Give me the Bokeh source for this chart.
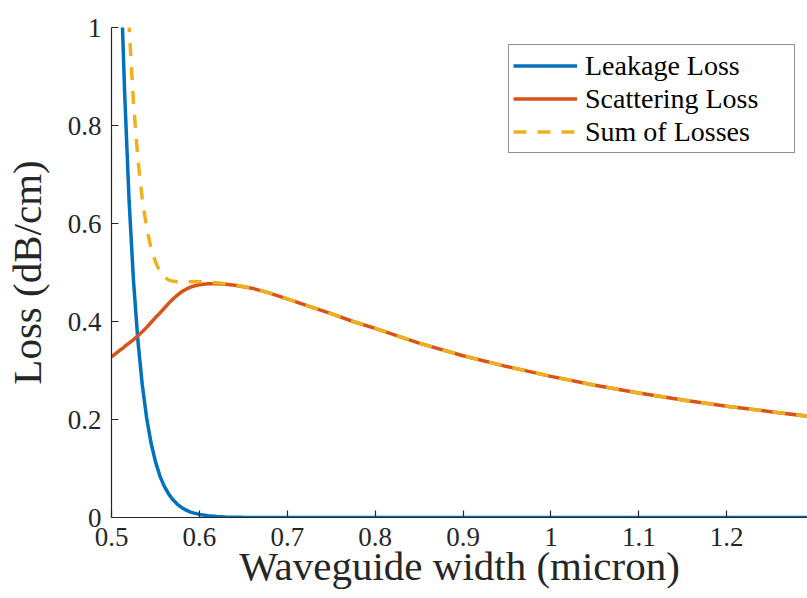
from bokeh.plotting import figure
from bokeh.models import Range1d, FixedTicker, Legend, LegendItem, ColumnDataSource
from bokeh.embed import file_html
from bokeh.resources import INLINE

# ---- data ----
width_um = [0.500, 0.505, 0.510, 0.5125, 0.515, 0.520, 0.525, 0.530, 0.535, 0.540,
            0.545, 0.550, 0.555, 0.560, 0.565, 0.570, 0.575, 0.580, 0.585, 0.590,
            0.595, 0.600, 0.610, 0.620, 0.630, 0.640, 0.650, 0.660, 0.680, 0.700,
            0.725, 0.750, 0.775, 0.800, 0.850, 0.900, 0.950, 1.000, 1.050, 1.100,
            1.150, 1.200, 1.250, 1.300]
leakage_loss = [2.06, 1.54, 1.156, 1.0, 0.865, 0.647, 0.484, 0.362, 0.271, 0.203,
                0.152, 0.114, 0.085, 0.064, 0.048, 0.036, 0.027, 0.020, 0.015, 0.011,
                0.0084, 0.0063, 0.0035, 0.002, 0.0011, 0.0006, 0.0003, 0.0002, 0.0001, 0.0,
                0.0, 0.0, 0.0, 0.0, 0.0, 0.0, 0.0, 0.0, 0.0, 0.0,
                0.0, 0.0, 0.0, 0.0]
scattering_loss = [0.328, 0.335, 0.342, 0.345, 0.349, 0.356, 0.363, 0.371, 0.379, 0.388,
                   0.398, 0.408, 0.417, 0.427, 0.437, 0.446, 0.454, 0.461, 0.466, 0.470,
                   0.473, 0.475, 0.477, 0.477, 0.476, 0.474, 0.471, 0.468, 0.458, 0.446,
                   0.431, 0.416, 0.400, 0.386, 0.356, 0.330, 0.308, 0.288, 0.270, 0.254,
                   0.240, 0.227, 0.216, 0.205]
sum_of_losses = [a + b for a, b in zip(leakage_loss, scattering_loss)]

x_ticks = [0.5, 0.6, 0.7, 0.8, 0.9, 1.0, 1.1, 1.2]
x_tick_labels = ["0.5", "0.6", "0.7", "0.8", "0.9", "1", "1.1", "1.2"]
y_ticks = [0.0, 0.2, 0.4, 0.6, 0.8, 1.0]
y_tick_labels = ["0", "0.2", "0.4", "0.6", "0.8", "1"]

series_names = ["Leakage Loss", "Scattering Loss", "Sum of Losses"]
x_label = "Waveguide width (micron)"
y_label = "Loss (dB/cm)"

# ---- styling ----
FONT = "Liberation Serif"
AX = "#262626"
C_BLUE, C_ORANGE, C_YELLOW = "#0072BD", "#D95319", "#EDB120"

src = ColumnDataSource(dict(x=width_um, leak=leakage_loss, scat=scattering_loss, tot=sum_of_losses))

p = figure(width=807, height=598, output_backend="svg", toolbar_location=None,
           x_range=Range1d(0.5, 1.292), y_range=Range1d(0.0, 1.0),
           min_border_left=110, min_border_right=0, min_border_top=27, min_border_bottom=81)
p.outline_line_color = None
p.background_fill_color = "white"
p.border_fill_color = "white"
p.grid.visible = False

r1 = p.line("x", "leak", source=src, line_color=C_BLUE, line_width=3.5)
r2 = p.line("x", "scat", source=src, line_color=C_ORANGE, line_width=3.5)
r3 = p.line("x", "tot", source=src, line_color=C_YELLOW, line_width=3.5, line_dash="13 11")

for ax, ticks, labels in ((p.xaxis[0], x_ticks, x_tick_labels), (p.yaxis[0], y_ticks, y_tick_labels)):
    ax.ticker = FixedTicker(ticks=ticks)
    ax.major_label_overrides = {t: l for t, l in zip(ticks, labels)}
    ax.axis_line_color = AX
    ax.axis_line_width = 1.2
    ax.major_tick_line_color = AX
    ax.major_tick_line_width = 1.2
    ax.major_tick_in = 7
    ax.major_tick_out = 0
    ax.minor_tick_line_color = None
    ax.major_label_text_font = FONT
    ax.major_label_text_font_size = "27px"
    ax.major_label_text_font_style = "normal"
    ax.major_label_text_color = AX
    ax.axis_label_text_font = FONT
    ax.axis_label_text_font_size = "41px"
    ax.axis_label_text_font_style = "normal"
    ax.axis_label_text_color = AX

p.xaxis[0].axis_label = x_label
p.yaxis[0].axis_label = y_label
p.xaxis[0].major_label_standoff = 10
p.yaxis[0].major_label_standoff = 10
p.xaxis[0].axis_label_standoff = -6
p.yaxis[0].axis_label_standoff = 15

legend = Legend(items=[LegendItem(label=series_names[0], renderers=[r1]),
                       LegendItem(label=series_names[1], renderers=[r2]),
                       LegendItem(label=series_names[2], renderers=[r3])],
                location=(397, 364))
legend.label_text_font = FONT
legend.label_text_font_size = "28px"
legend.label_text_font_style = "normal"
legend.label_text_color = "black"
legend.border_line_color = AX
legend.border_line_width = 1
legend.background_fill_color = "white"
legend.background_fill_alpha = 1.0
legend.glyph_width = 64
legend.glyph_height = 33
legend.label_height = 33
legend.label_width = 205
legend.label_standoff = 8
legend.spacing = 0
legend.padding = 4
legend.margin = 0
p.add_layout(legend, "center")

open("out.html", "w").write(file_html(p, INLINE))
